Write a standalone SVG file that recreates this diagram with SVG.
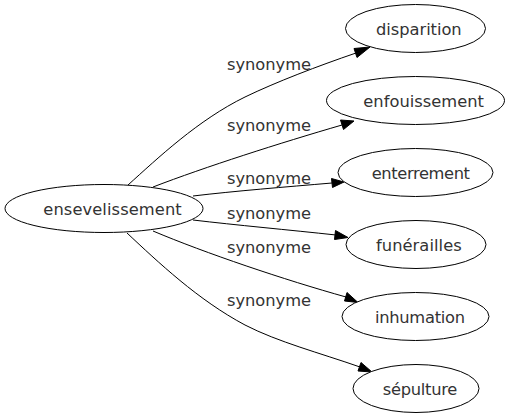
<svg xmlns="http://www.w3.org/2000/svg" width="510" height="419" viewBox="0 0 510 419">
<defs>
<style>
.node ellipse{fill:#fff;stroke:#000;stroke-width:1}
.node text,.edges text{font-family:"DejaVu Sans",sans-serif;font-size:16.3px;fill:#333}
.edges path{fill:none;stroke:#000;stroke-width:1}
.edges polygon{fill:#000;stroke:#000;stroke-width:1}
</style>
</defs>
<rect width="510" height="419" fill="#fff"/>
<g class="edges">
<path d="M128,185 C158,158 198,120 245,97 C276,82 318,66 356,53"/>
<polygon points="354,48.5 370,47 357,57.5"/>
<text x="227" y="70" textLength="84">synonyme</text>
<path d="M153,187 C205,167 280,143 342,125"/>
<polygon points="340.5,120 354,121 343.5,129.5"/>
<text x="227" y="130.5" textLength="84">synonyme</text>
<path d="M193,196 C235,191 285,187 332,183"/>
<polygon points="331.5,178.5 344,182 332.5,187.5"/>
<text x="227" y="183.5" textLength="84">synonyme</text>
<path d="M193,220 C235,225 290,230 336,235"/>
<polygon points="335.5,230.5 348,237.5 334.5,239.5"/>
<text x="227" y="219" textLength="84">synonyme</text>
<path d="M153,231 C205,253 285,280 346,297"/>
<polygon points="347,292.5 358,302.5 344.5,301"/>
<text x="227" y="253" textLength="84">synonyme</text>
<path d="M127,233 C158,262 198,300 245,325 C278,342 320,353 360,367"/>
<polygon points="361,362.5 372,372 358,371"/>
<text x="227" y="305.5" textLength="84">synonyme</text>
</g>
<g id="node-ensevelissement" class="node">
<ellipse cx="104" cy="208.5" rx="99" ry="24"/>
<text x="43.3" y="215" textLength="138.4">ensevelissement</text>
</g>
<g id="node-disparition" class="node">
<ellipse cx="415.5" cy="28.5" rx="70" ry="24"/>
<text x="376" y="35" textLength="85.7">disparition</text>
</g>
<g id="node-enfouissement" class="node">
<ellipse cx="415.5" cy="100.5" rx="89" ry="24"/>
<text x="363.3" y="107" textLength="120.7">enfouissement</text>
</g>
<g id="node-enterrement" class="node">
<ellipse cx="415.5" cy="172.5" rx="77.5" ry="24"/>
<text x="371.7" y="179" textLength="98.3">enterrement</text>
</g>
<g id="node-funerailles" class="node">
<ellipse cx="416" cy="244.5" rx="70" ry="24"/>
<text x="376" y="251" textLength="85.7">funérailles</text>
</g>
<g id="node-inhumation" class="node">
<ellipse cx="415.5" cy="316.5" rx="73.5" ry="24"/>
<text x="375" y="323" textLength="90">inhumation</text>
</g>
<g id="node-sepulture" class="node">
<ellipse cx="416" cy="388.5" rx="63" ry="24"/>
<text x="382.7" y="395" textLength="74.6">sépulture</text>
</g>
</svg>
